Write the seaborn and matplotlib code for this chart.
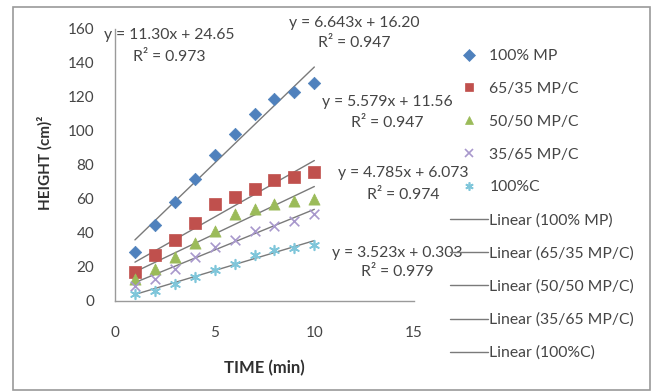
import numpy as np
import pandas as pd
import matplotlib.pyplot as plt
from matplotlib.lines import Line2D
from matplotlib.patches import Rectangle
import seaborn as sns

# Data
time_min = [1, 2, 3, 4, 5, 6, 7, 8, 9, 10]
series_names = ['100% MP', '65/35 MP/C', '50/50 MP/C', '35/65 MP/C', '100%C']
h_100mp = [29, 45, 58, 72, 86, 98, 110, 119, 123, 128]
h_65_35 = [17, 27, 36, 46, 57, 61, 66, 71, 73, 76]
h_50_50 = [13, 19, 26, 34, 41, 51, 54, 57, 59, 60]
h_35_65 = [9, 13, 19, 26, 32, 36, 41, 44, 47, 51]
h_100c = [4, 6, 10, 14, 18, 22, 27, 30, 31, 33]

# Trendline coefficients as printed on the chart
slopes = [11.30, 6.643, 5.579, 4.785, 3.523]
intercepts = [24.65, 16.20, 11.56, 6.073, 0.303]
eq_labels = ['y = 11.30x + 24.65', 'y = 6.643x + 16.20', 'y = 5.579x + 11.56',
             'y = 4.785x + 6.073', 'y = 3.523x + 0.303']
r2_labels = ['R² = 0.973', 'R² = 0.947', 'R² = 0.947', 'R² = 0.974', 'R² = 0.979']

heights = [h_100mp, h_65_35, h_50_50, h_35_65, h_100c]
colors = ['#4F81BD', '#C0504D', '#9BBB59', '#A898CC', '#7FC6DA']
markers = ['D', 's', '^', 'x', (6, 2, 0)]
sizes = [40, 75, 65, 48, 48]
trend_color = '#7a7a7a'
text_color = '#454545'

sns.set_theme(style='white')
plt.rcParams['font.family'] = ['Lato', 'DejaVu Sans']

fig = plt.figure(figsize=(6.59, 3.91), dpi=100)
ax = fig.add_axes([115 / 659, 1 - 301 / 391, 299 / 659, 272 / 391])

# Linear trendlines
t = np.array(time_min)
for m, b in zip(slopes, intercepts):
    sns.lineplot(x=t, y=m * t + b, color=trend_color, linewidth=1, ax=ax)

# Data points
for h, c, mk, sz in zip(heights, colors, markers, sizes):
    if mk in ('x', (6, 2, 0)):
        sns.scatterplot(x=time_min, y=h, marker=mk, color=c, s=sz, linewidth=1.2, ax=ax, zorder=3)
    else:
        sns.scatterplot(x=time_min, y=h, marker=mk, color=c, s=sz, edgecolor=c, linewidth=0.5,
                        ax=ax, zorder=3)

ax.set_xlim(0, 15)
ax.set_ylim(0, 160)
ax.set_xticks([0, 5, 10, 15])
ax.set_yticks(range(0, 161, 20))
for s in ['top', 'right']:
    ax.spines[s].set_visible(False)
for s in ['left', 'bottom']:
    ax.spines[s].set_color('#9a9a9a')
    ax.spines[s].set_linewidth(1)
ax.tick_params(axis='both', direction='out', length=4, width=0.8, color='#9a9a9a',
               labelsize=11, labelcolor=text_color)
ax.tick_params(axis='y', pad=11)
ax.tick_params(axis='x', pad=14)
ax.set_xlabel('')
ax.set_ylabel('')

# Equation labels (x, y of equation, y of R²) in data units
eq_pos = [(2.7, 156.5, 143.5), (12.0, 163.5, 151.8), (13.65, 117.1, 104.7),
          (14.45, 75.3, 62.4), (14.15, 28.2, 17.1)]
for (x, ye, yr), eq, r2 in zip(eq_pos, eq_labels, r2_labels):
    ax.text(x, ye, eq, ha='center', va='center', fontsize=11.3, color=text_color, clip_on=False)
    ax.text(x, yr, r2, ha='center', va='center', fontsize=11.3, color=text_color, clip_on=False)

fig.text(45 / 659, 1 - 163 / 391, 'HEIGHT (cm)²', rotation=90, ha='center', va='center',
         fontsize=11, fontweight='bold', color='#303030')
fig.text(264 / 659, 1 - 368 / 391, 'TIME (min)', ha='center', va='center',
         fontsize=12, fontweight='bold', color='#303030')

# Legend
handles = []
labels = []
for c, mk, name in zip(colors, markers, series_names):
    handles.append(Line2D([], [], linestyle='none', marker=mk, color=c, markersize=6,
                          markeredgewidth=1.2 if mk in ('x', (6, 2, 0)) else 0.5))
    labels.append(name)
for name in series_names:
    handles.append(Line2D([], [], color=trend_color, linewidth=1))
    labels.append(f'Linear ({name})')
fig.legend(handles, labels, loc='upper left', bbox_to_anchor=(450 / 659, 1 - 49 / 391),
           frameon=False, fontsize=11.3, labelspacing=1.2, handlelength=2.4,
           handletextpad=0.1, labelcolor=text_color, borderaxespad=0, borderpad=0)

# Chart border
fig.patches.append(Rectangle((12.5 / 659, 1 / 391), 637.5 / 659, 383 / 391,
                             transform=fig.transFigure, fill=False,
                             edgecolor='#9a9a9a', linewidth=1.2))

plt.savefig('out.png', dpi=100)
